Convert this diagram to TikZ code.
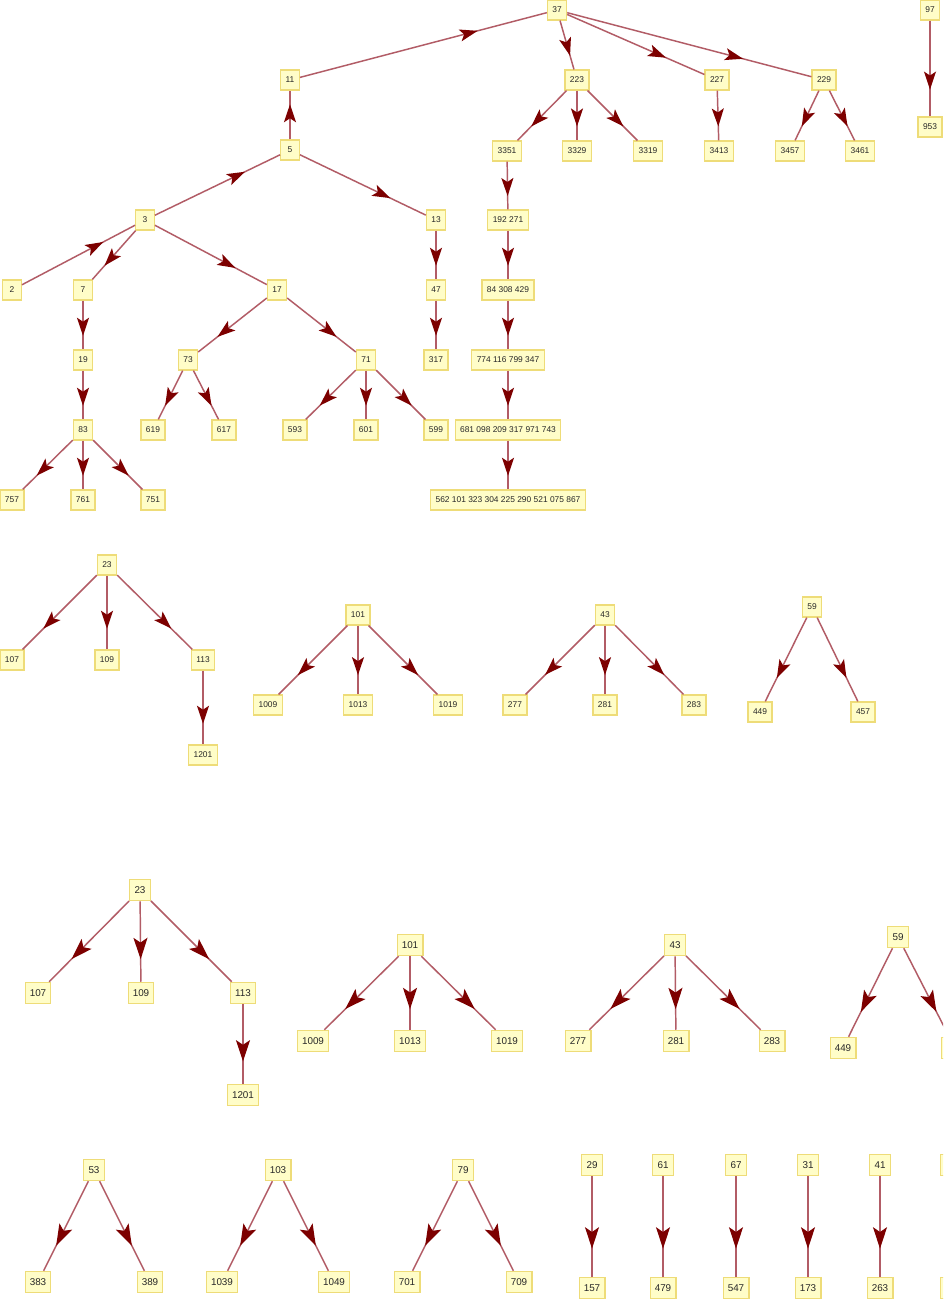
\documentclass[tikz,border=0pt]{standalone}
\usepackage{fontspec}
\setmainfont{Liberation Sans}
\usetikzlibrary{arrows.meta,decorations.markings}
\definecolor{boxfill}{RGB}{255,253,200}
\definecolor{boxborder}{RGB}{238,220,120}
\definecolor{edgecol}{RGB}{178,92,102}
\definecolor{arrowcol}{RGB}{125,0,0}
\definecolor{txtcol}{RGB}{40,40,40}
\tikzset{
  nbox/.style={draw=boxborder, fill=boxfill, line width=0.9pt, text=txtcol, rectangle},
  tb/.style={nbox, font=\fontsize{6.3}{7}\selectfont, inner xsep=3.7pt, inner ysep=0pt, minimum width=14pt, minimum height=15pt},
  bb/.style={nbox, font=\fontsize{7.4}{8}\selectfont, inner xsep=3.5pt, inner ysep=0pt, minimum width=15.5pt, minimum height=16pt},
  te/.style={draw=edgecol, line width=1.1pt, postaction={decorate},
    decoration={markings, mark=at position 0.72 with {\arrow{Stealth[length=13.5pt,width=9pt,inset=3pt,color=arrowcol,fill=arrowcol]}}}},
  be/.style={draw=edgecol, line width=1.1pt, postaction={decorate},
    decoration={markings, mark=at position 0.72 with {\arrow{Stealth[length=16pt,width=10.5pt,inset=3.5pt,color=arrowcol,fill=arrowcol]}}}},
}
\begin{document}
\begin{tikzpicture}[x=0.75pt,y=-0.75pt]
\fill[white] (0,0) rectangle (943,1300);
\clip (0,0) rectangle (943,1300);
% ---------- top graph ----------
\node[tb] (t37) at (557,10) {37};
\node[tb] (t11) at (290,80) {11};
\node[tb] (t223) at (577,80) {223};
\node[tb] (t227) at (717,80) {227};
\node[tb] (t229) at (824,80) {229};
\node[tb] (t97) at (930,10) {97};
\node[tb] (t953) at (930,127) {953};
\node[tb] (t5) at (290,150) {5};
\node[tb] (t3351) at (507,151) {3351};
\node[tb] (t3329) at (577,151) {3329};
\node[tb] (t3319) at (648,151) {3319};
\node[tb] (t3413) at (719,151) {3413};
\node[tb] (t3457) at (790,151) {3457};
\node[tb] (t3461) at (860,151) {3461};
\node[tb] (t3) at (145,220) {3};
\node[tb] (t13) at (436,220) {13};
\node[tb] (tA) at (508,220) {192 271};
\node[tb] (t2) at (12,290) {2};
\node[tb] (t7) at (83,290) {7};
\node[tb] (t17) at (277,290) {17};
\node[tb] (t47) at (436,290) {47};
\node[tb] (tB) at (508,290) {84 308 429};
\node[tb] (t19) at (83,360) {19};
\node[tb] (t73) at (188,360) {73};
\node[tb] (t71) at (366,360) {71};
\node[tb] (t317) at (436,360) {317};
\node[tb] (tC) at (508,360) {774 116 799 347};
\node[tb] (t83) at (83,430) {83};
\node[tb] (t619) at (153,430) {619};
\node[tb] (t617) at (224,430) {617};
\node[tb] (t593) at (295,430) {593};
\node[tb] (t601) at (366,430) {601};
\node[tb] (t599) at (436,430) {599};
\node[tb] (tD) at (508,430) {681 098 209 317 971 743};
\node[tb] (t757) at (12,500) {757};
\node[tb] (t761) at (83,500) {761};
\node[tb] (t751) at (153,500) {751};
\node[tb] (tE) at (508,500) {562 101 323 304 225 290 521 075 867};
\foreach \a/\b in {t11/t37,t5/t11,t3/t5,t2/t3,t3/t7,t3/t17,t5/t13,t13/t47,t47/t317,
  t7/t19,t19/t83,t83/t757,t83/t761,t83/t751,t17/t73,t17/t71,t73/t619,t73/t617,
  t71/t593,t71/t601,t71/t599,t37/t223,t37/t227,t37/t229,t223/t3351,t223/t3329,t223/t3319,
  t227/t3413,t229/t3457,t229/t3461,t3351/tA,tA/tB,tB/tC,tC/tD,tD/tE,t97/t953}
  \draw[te] (\a) -- (\b);
% ---------- middle graphs ----------
\node[tb] (m23) at (107,565) {23};
\node[tb] (m107) at (12,660) {107};
\node[tb] (m109) at (107,660) {109};
\node[tb] (m113) at (203,660) {113};
\node[tb] (m1201) at (203,755) {1201};
\node[tb] (m101) at (358,615) {101};
\node[tb] (m1009) at (268,705) {1009};
\node[tb] (m1013) at (358,705) {1013};
\node[tb] (m1019) at (448,705) {1019};
\node[tb] (m43) at (605,615) {43};
\node[tb] (m277) at (515,705) {277};
\node[tb] (m281) at (605,705) {281};
\node[tb] (m283) at (694,705) {283};
\node[tb] (m59) at (812,607) {59};
\node[tb] (m449) at (760,712) {449};
\node[tb] (m457) at (863,712) {457};
\foreach \a/\b in {m23/m107,m23/m109,m23/m113,m113/m1201,m101/m1009,m101/m1013,m101/m1019,
  m43/m277,m43/m281,m43/m283,m59/m449,m59/m457}
  \draw[te] (\a) -- (\b);
% ---------- bottom graphs ----------
\node[bb] (b23) at (140,890) {23};
\node[bb] (b107) at (38,993) {107};
\node[bb] (b109) at (141,993) {109};
\node[bb] (b113) at (243,993) {113};
\node[bb] (b1201) at (243,1095) {1201};
\node[bb] (b101) at (410,945) {101};
\node[bb] (b1009) at (313,1041) {1009};
\node[bb] (b1013) at (410,1041) {1013};
\node[bb] (b1019) at (507,1041) {1019};
\node[bb] (b43) at (675,945) {43};
\node[bb] (b277) at (578,1041) {277};
\node[bb] (b281) at (676,1041) {281};
\node[bb] (b283) at (772,1041) {283};
\node[bb] (b59) at (898,937) {59};
\node[bb] (b449) at (843,1048) {449};
\node[bb, minimum width=20pt] (b457) at (955,1048) {};
\node[bb] (b53) at (94,1170) {53};
\node[bb] (b383) at (38,1282) {383};
\node[bb] (b389) at (150,1282) {389};
\node[bb] (b103) at (278,1170) {103};
\node[bb] (b1039) at (222,1282) {1039};
\node[bb] (b1049) at (334,1282) {1049};
\node[bb] (b79) at (463,1170) {79};
\node[bb] (b701) at (407,1282) {701};
\node[bb] (b709) at (519,1282) {709};
\node[bb] (b29) at (592,1165) {29};
\node[bb] (b157) at (592,1288) {157};
\node[bb] (b61) at (663,1165) {61};
\node[bb] (b479) at (663,1288) {479};
\node[bb] (b67) at (736,1165) {67};
\node[bb] (b547) at (736,1288) {547};
\node[bb] (b31) at (808,1165) {31};
\node[bb] (b173) at (808,1288) {173};
\node[bb] (b41) at (880,1165) {41};
\node[bb] (b263) at (880,1288) {263};
\node[bb] (bx1) at (951,1165) {};
\node[bb, minimum width=20pt] (bx2) at (954,1288) {};
\foreach \a/\b in {b23/b107,b23/b109,b23/b113,b113/b1201,b101/b1009,b101/b1013,b101/b1019,
  b43/b277,b43/b281,b43/b283,b59/b449,b59/b457,b53/b383,b53/b389,b103/b1039,b103/b1049,
  b79/b701,b79/b709,b29/b157,b61/b479,b67/b547,b31/b173,b41/b263}
  \draw[be] (\a) -- (\b);
\end{tikzpicture}
\end{document}
